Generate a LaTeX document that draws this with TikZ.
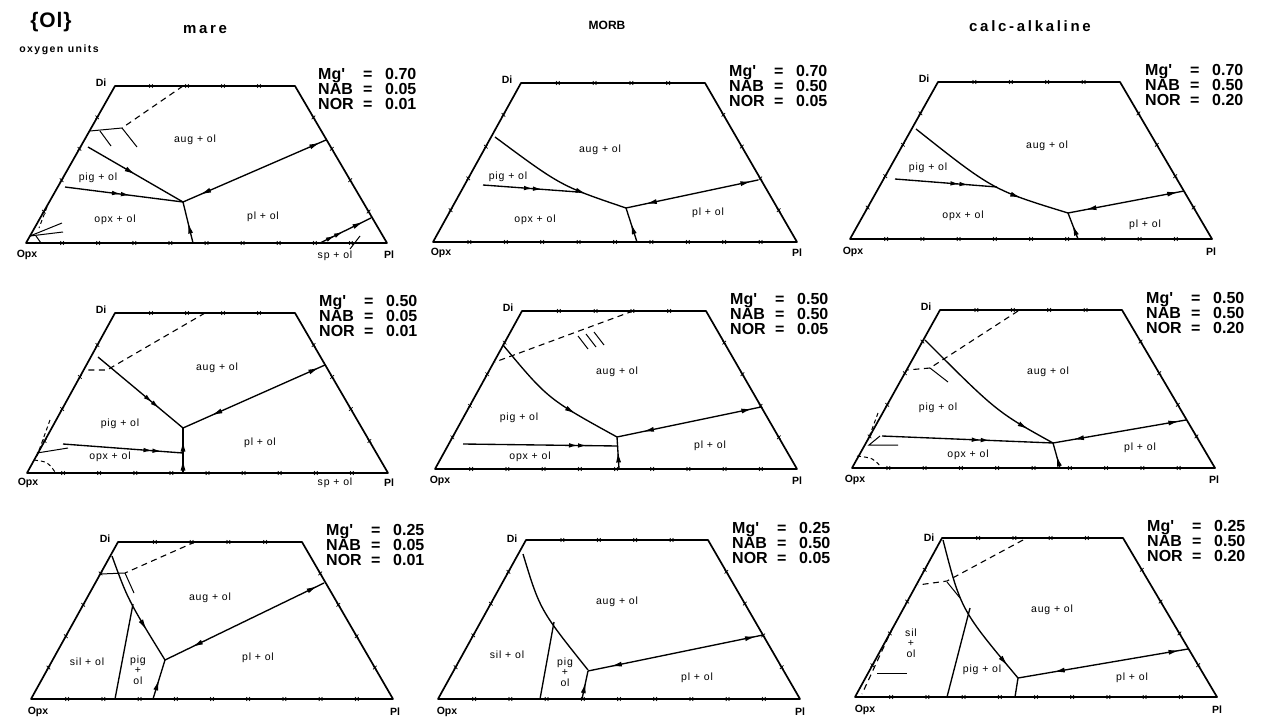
\documentclass[tikz,border=0pt]{standalone}
\usepackage{fontspec}
\setmainfont{Liberation Sans}
\newfontfamily\spaced[LetterSpace=8]{Liberation Sans}
\newfontfamily\wide[LetterSpace=18]{Liberation Sans}
\newfontfamily\wider[LetterSpace=14]{Liberation Sans}
\newfontfamily\slight[LetterSpace=4]{Liberation Sans}
\usetikzlibrary{calc,arrows.meta,decorations.markings}
\tikzset{
  frm/.style={line width=1.7pt, line join=round},
  tkl/.style={line width=0.7pt},
  bd/.style={line width=1.35pt},
  dsh/.style={line width=1.1pt, dash pattern=on 6pt off 4.5pt},
  sdsh/.style={line width=1pt, dash pattern=on 4pt off 3pt},
  thn/.style={line width=1pt},
  lab/.style={font=\spaced\fontsize{10.5}{11.5}\selectfont, inner sep=0pt},
  stk/.style={align=center, inner sep=0pt, font=\spaced\fontsize{10.5}{10.5}\selectfont},
  cor/.style={font=\bfseries\fontsize{10.5}{11}\selectfont, inner sep=0pt},
  pp/.style={font=\bfseries\fontsize{16}{16}\selectfont, inner sep=0pt},
  ttl/.style={font=\wide\bfseries\fontsize{15}{16}\selectfont, inner sep=0pt},
  arr/.style={postaction={decorate,decoration={markings,mark=at position #1 with {\arrow{Latex[length=11pt,width=5pt]}}}}},
  rarr/.style={postaction={decorate,decoration={markings,mark=at position #1 with {\arrowreversed{Latex[length=11pt,width=5pt]}}}}},
  darr/.style={postaction={decorate,decoration={markings,mark=at position #1 with {\arrow{Latex[length=9pt,width=4.6pt]Latex[length=9pt,width=4.6pt]}}}}},
}
\newcommand\tickmark[1]{\draw[tkl] #1 +(-1.8,-1.8) -- +(1.8,1.8) +(-1.8,1.8) -- +(1.8,-1.8);}
\newcommand\trap[4]{%
  \draw[frm] #1 -- #2 -- #3 -- #4 -- cycle;
  \foreach \k in {1,...,9}{\tickmark{($#1!\k/10!#2$)}}
  \foreach \k in {1,...,4}{\tickmark{($#4!\k/5!#3$)}\tickmark{($#1!\k/5!#4$)}\tickmark{($#2!\k/5!#3$)}}
}
\newcommand\params[6]{%
  \node[pp,anchor=base west] (#6m) at (#1,#2) {\makebox[45pt][l]{Mg\textquotesingle}\makebox[22pt][l]{=}#3};
  \node[pp,anchor=base west] (#6n) at (#1,#2+15) {\makebox[45pt][l]{NAB}\makebox[22pt][l]{=}#4};
  \node[pp,anchor=base west] (#6o) at (#1,#2+30) {\makebox[45pt][l]{NOR}\makebox[22pt][l]{=}#5};
}
\begin{document}
\begin{tikzpicture}[x=1pt,y=-1pt]
\fill[white] (0,0) rectangle (1263,720);
\useasboundingbox (0,0) rectangle (1263,720);

% titles
\node[font=\slight\bfseries\fontsize{21}{22}\selectfont, inner sep=0pt] (ol) at (51,22) {\{Ol\}};
\node[font=\wider\bfseries\fontsize{10.5}{11}\selectfont, inner sep=0pt] (oxy) at (59,50) {oxygen units};
\node[ttl] (mare) at (205,30) {mare};
\node[font=\bfseries\fontsize{12}{13}\selectfont, inner sep=0pt] (morb) at (607,25) {MORB};
\node[ttl] (calc) at (1030,26) {calc-alkaline};

% ---------- P11
\trap{(26,243)}{(387,243)}{(295,86)}{(115,86)}
\draw[dsh] (183,86) -- (122,128);
\draw[thn] (122,128) -- (90,131);
\draw[thn] (100,131) -- (111,146);
\draw[thn] (122,128) -- (137,147);
\draw[bd, arr=0.5] (88,147) -- (183,202);
\draw[bd, darr=0.55] (65,187) -- (183,202);
\draw[bd, rarr=0.12, arr=0.96] (183,202) -- (326,140);
\draw[bd, arr=0.5] (193,243) -- (183,202);
\draw[bd, darr=0.45, arr=0.85] (320,243) -- (371,218);
\draw[thn] (350,249) -- (360,236);
\draw[thn] (30,236) -- (62,223);
\draw[thn] (30,236) -- (63,232);
\draw[thn] (36,236) -- (41,243);
\draw[sdsh] (47,207) -- (39,228);
\node[lab] (a11) at (195,140) {aug + ol};
\node[lab] (b11) at (98,178) {pig + ol};
\node[lab] (c11) at (115,220) {opx + ol};
\node[lab] (d11) at (263,217) {pl + ol};
\node[lab] (e11) at (335,256) {sp + ol};
\node[cor] (di11) at (101,83) {Di};
\node[cor] (ox11) at (27,255) {Opx};
\node[cor] (pl11) at (389,255) {Pl};
\params{318}{79}{0.70}{0.05}{0.01}{p11}

% ---------- P12
\trap{(433,242)}{(797,242)}{(705,83)}{(521,83)}
\draw[bd, arr=0.72] (495,137) .. controls (561,186) .. (626,208);
\draw[bd, darr=0.62] (483,185) -- (578,192);
\draw[bd, rarr=0.15, arr=0.95] (626,208) -- (758,180);
\draw[bd, arr=0.55] (637,242) -- (626,208);
\node[lab] (a12) at (600,150) {aug + ol};
\node[lab] (b12) at (508,177) {pig + ol};
\node[lab] (c12) at (535,220) {opx + ol};
\node[lab] (d12) at (708,213) {pl + ol};
\node[cor] (di12) at (507,80) {Di};
\node[cor] (ox12) at (441,253) {Opx};
\node[cor] (pl12) at (797,253) {Pl};
\params{729}{76}{0.70}{0.50}{0.05}{p12}

% ---------- P13
\trap{(850,239)}{(1212,239)}{(1120,82)}{(938,82)}
\draw[bd, arr=0.72] (916,129) .. controls (993,190) .. (1068,213);
\draw[bd, darr=0.72] (895,179) -- (997,187);
\draw[bd, rarr=0.15, arr=0.95] (1068,213) -- (1184,191);
\draw[bd, arr=0.55] (1078,239) -- (1068,213);
\node[lab] (a13) at (1047,146) {aug + ol};
\node[lab] (b13) at (928,168) {pig + ol};
\node[lab] (c13) at (963,216) {opx + ol};
\node[lab] (d13) at (1145,225) {pl + ol};
\node[cor] (di13) at (924,79) {Di};
\node[cor] (ox13) at (853,252) {Opx};
\node[cor] (pl13) at (1211,252) {Pl};
\params{1145}{75}{0.70}{0.50}{0.20}{p13}

% ---------- P21
\trap{(27,473)}{(388,473)}{(295,313)}{(115,313)}
\draw[dsh] (205,313) -- (107,370) -- (84,370);
\draw[bd, darr=0.72] (98,357) -- (183,428);
\draw[bd, rarr=0.2, arr=0.96] (183,428) -- (325,365);
\draw[bd, arr=0.3, arr=0.72] (183,473) -- (183,428);
\draw[bd, darr=0.82] (63,444) -- (183,453);
\draw[sdsh] (50,420) -- (37,456);
\draw[thn] (37,453) -- (68,448);
\draw[sdsh] (34,460) .. controls (48,462) .. (55,472);
\node[lab] (a21) at (217,368) {aug + ol};
\node[lab] (b21) at (120,424) {pig + ol};
\node[lab] (c21) at (110,457) {opx + ol};
\node[lab] (d21) at (260,443) {pl + ol};
\node[lab] (e21) at (335,483) {sp + ol};
\node[cor] (di21) at (101,310) {Di};
\node[cor] (ox21) at (28,483) {Opx};
\node[cor] (pl21) at (389,483) {Pl};
\params{319}{306}{0.50}{0.05}{0.01}{p21}

% ---------- P22
\trap{(435,469)}{(797,469)}{(706,311)}{(522,311)}
\draw[dsh] (633,311) -- (495,362);
\draw[thn] (578,336) -- (588,349);
\draw[thn] (586,334) -- (596,347);
\draw[thn] (594,332) -- (604,345);
\draw[bd, arr=0.68] (503,345) .. controls (548,399) .. (617,437);
\draw[bd, rarr=0.18, arr=0.94] (617,437) -- (761,407);
\draw[bd, darr=0.8] (463,444) -- (618,446);
\draw[bd, arr=0.55] (619,469) -- (617,437);
\node[lab] (a22) at (617,372) {aug + ol};
\node[lab] (b22) at (519,418) {pig + ol};
\node[lab] (c22) at (530,457) {opx + ol};
\node[lab] (d22) at (710,446) {pl + ol};
\node[cor] (di22) at (508,308) {Di};
\node[cor] (ox22) at (440,481) {Opx};
\node[cor] (pl22) at (797,481) {Pl};
\params{730}{304}{0.50}{0.50}{0.05}{p22}

% ---------- P23
\trap{(852,468)}{(1215,468)}{(1122,310)}{(940,310)}
\draw[dsh] (1018,311) -- (930,368) -- (907,370);
\draw[thn] (930,368) -- (948,382);
\draw[bd, arr=0.83] (925,340) .. controls (997,412) .. (1053,443);
\draw[bd, rarr=0.15, arr=0.95] (1053,443) -- (1186,420);
\draw[bd, darr=0.63] (882,436) -- (1053,443);
\draw[bd, arr=0.5] (1060,468) -- (1053,443);
\draw[sdsh] (878,413) -- (868,440);
\draw[thn] (880,436) -- (869,445) -- (898,445);
\draw[sdsh] (857,456) .. controls (873,458) .. (881,467);
\node[lab] (a23) at (1048,372) {aug + ol};
\node[lab] (b23) at (938,408) {pig + ol};
\node[lab] (c23) at (968,455) {opx + ol};
\node[lab] (d23) at (1140,448) {pl + ol};
\node[cor] (di23) at (926,307) {Di};
\node[cor] (ox23) at (855,480) {Opx};
\node[cor] (pl23) at (1214,480) {Pl};
\params{1146}{303}{0.50}{0.50}{0.20}{p23}

% ---------- P31
\trap{(31,699)}{(393,699)}{(302,542)}{(118,542)}
\draw[dsh] (195,542) -- (125,573);
\draw[thn] (125,573) -- (101,574);
\draw[thn] (125,573) -- (134,593);
\draw[bd, arr=0.7] (112,556) .. controls (128,600) .. (165,660);
\draw[bd] (133,604) -- (115,699);
\draw[bd, rarr=0.17, arr=0.96] (165,660) -- (324,583);
\draw[bd, arr=0.5] (153,699) -- (165,660);
\node[lab] (a31) at (210,598) {aug + ol};
\node[lab] (b31) at (87,662) {sil + ol};
\node[stk] (c31) at (138,670) {pig\\+\\ol};
\node[lab] (d31) at (258,658) {pl + ol};
\node[cor] (di31) at (105,539) {Di};
\node[cor] (ox31) at (38,712) {Opx};
\node[cor] (pl31) at (395,712) {Pl};
\params{326}{535}{0.25}{0.05}{0.01}{p31}

% ---------- P32
\trap{(438,699)}{(800,699)}{(708,540)}{(526,540)}
\draw[bd] (523,554) .. controls (540,610) .. (588,670);
\draw[bd] (554,622) -- (540,699);
\draw[bd, rarr=0.13, arr=0.96] (588,671) -- (763,635);
\draw[bd, arr=0.6] (582,699) -- (588,671);
\node[lab] (a32) at (617,602) {aug + ol};
\node[lab] (b32) at (507,655) {sil + ol};
\node[stk] (c32) at (565,672) {pig\\+\\ol};
\node[lab] (d32) at (697,678) {pl + ol};
\node[cor] (di32) at (512,539) {Di};
\node[cor] (ox32) at (447,712) {Opx};
\node[cor] (pl32) at (800,712) {Pl};
\params{732}{533}{0.25}{0.50}{0.05}{p32}

% ---------- P33
\trap{(855,697)}{(1217,697)}{(1123,538)}{(942,538)}
\draw[bd, arr=0.9] (943,540) .. controls (961,610) .. (1018,678);
\draw[bd] (970,608) -- (947,697);
\draw[dsh] (1023,540) -- (947,581) -- (918,585);
\draw[thn] (947,582) -- (960,598);
\draw[dsh] (893,627) -- (862,694);
\draw[thn] (877,673) -- (907,673);
\draw[bd, rarr=0.21, arr=0.95] (1018,678) -- (1188,649);
\draw[bd] (1015,697) -- (1018,678);
\node[lab] (a33) at (1052,610) {aug + ol};
\node[stk] (b33) at (911,643) {sil\\+\\ol};
\node[lab] (c33) at (982,670) {pig + ol};
\node[lab] (d33) at (1132,678) {pl + ol};
\node[cor] (di33) at (929,538) {Di};
\node[cor] (ox33) at (865,710) {Opx};
\node[cor] (pl33) at (1217,710) {Pl};
\params{1147}{531}{0.25}{0.50}{0.20}{p33}
\end{tikzpicture}
\end{document}
